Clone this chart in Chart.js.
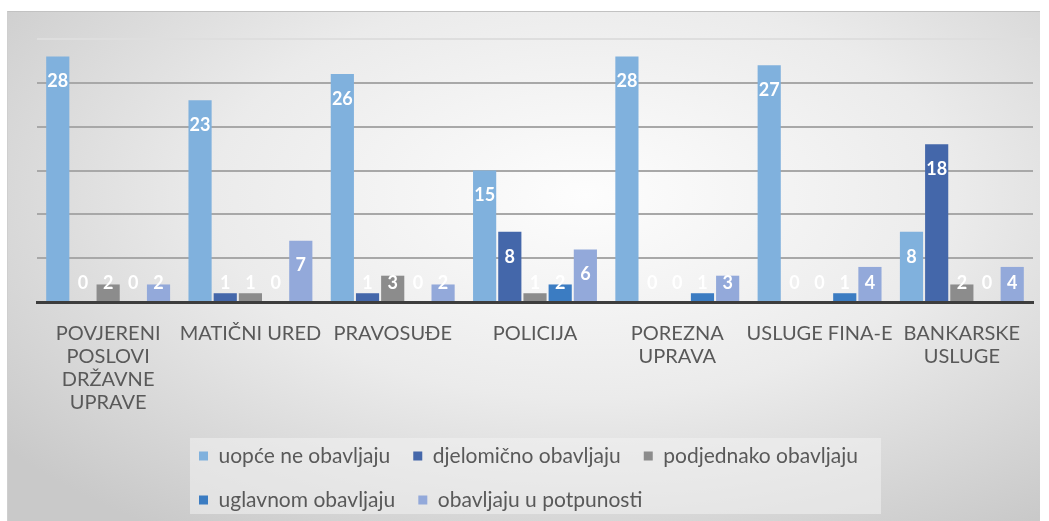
<!DOCTYPE html>
<html>
<head>
<meta charset="utf-8">
<script src="https://cdn.jsdelivr.net/npm/chart.js@4"></script>
<style>
  html, body { margin: 0; padding: 0; background: #fff; }
  #frame {
    position: absolute; left: 7px; top: 11px; width: 1033px; height: 510px;
    box-sizing: border-box;
    background: radial-gradient(ellipse 72% 80% at 56% 36%, #fdfdfd 0%, #ebebeb 50%, #c9c9c9 100%);
    border-top: 1px solid #c2c2c2;
    border-left: 1px solid #cfcfcf;
  }
  canvas { position: absolute; left: 0; top: 0; }
</style>
</head>
<body>
<div id="frame"></div>
<canvas id="chart" width="1049" height="521"></canvas>
<script>
const categories = [
  ["POVJERENI", "POSLOVI", "DRŽAVNE", "UPRAVE"],
  "MATIČNI URED",
  "PRAVOSUĐE",
  "POLICIJA",
  ["POREZNA", "UPRAVA"],
  "USLUGE FINA-E",
  ["BANKARSKE", "USLUGE"],
];
const seriesNames = [
  "uopće ne obavljaju",
  "djelomično obavljaju",
  "podjednako obavljaju",
  "uglavnom obavljaju",
  "obavljaju u potpunosti",
];
const uopceNe = [28, 23, 26, 15, 28, 27, 8];
const djelomicno = [0, 1, 1, 8, 0, 0, 18];
const podjednako = [2, 1, 3, 1, 0, 0, 2];
const uglavnom = [0, 0, 0, 2, 1, 1, 0];
const uPotpunosti = [2, 7, 2, 6, 3, 4, 4];
const seriesColors = ["#80b1dd", "#4467aa", "#8c8c8c", "#3b7cc2", "#93a9da"];

Chart.defaults.font.family = "Lato";

// white value labels near the top of each bar, lifted above short bars
const barLabels = {
  id: "barLabels",
  afterDatasetsDraw(chart) {
    const ctx = chart.ctx;
    const base = chart.scales.y.getPixelForValue(0);
    ctx.save();
    ctx.font = "bold 18px Lato";
    ctx.fillStyle = "#ffffff";
    ctx.textAlign = "center";
    ctx.textBaseline = "middle";
    chart.data.datasets.forEach((ds, i) => {
      chart.getDatasetMeta(i).data.forEach((bar, j) => {
        const y = Math.min(bar.y + 25, base - 19);
        ctx.fillText(ds.data[j], bar.x, y);
      });
    });
    ctx.restore();
  },
};

// legend sits in a light box under the axis labels, three items per row
const legendBox = {
  id: "legendBox",
  afterLayout(chart) {
    const lg = chart.legend;
    const pad = lg.options.labels.padding;
    const size = lg.options.labels.font.size;
    lg.left = 199 - pad;
    lg.right = 881;
    lg.top = 456 - size / 2 - pad;
  },
  beforeDraw(chart) {
    const ctx = chart.ctx;
    ctx.save();
    ctx.fillStyle = "rgba(243, 243, 243, 0.55)";
    ctx.fillRect(190, 438, 691, 76);
    ctx.restore();
  },
};

const datasets = [uopceNe, djelomicno, podjednako, uglavnom, uPotpunosti].map((d, i) => ({
  label: seriesNames[i],
  data: d,
  backgroundColor: seriesColors[i],
  categoryPercentage: 0.885,
  barPercentage: 0.92,
}));

new Chart(document.getElementById("chart"), {
  type: "bar",
  data: { labels: categories, datasets: datasets },
  options: {
    responsive: false,
    animation: false,
    devicePixelRatio: 1,
    layout: { padding: { left: 37, right: 16, top: 39, bottom: 0 } },
    plugins: {
      tooltip: { enabled: false },
      legend: {
        position: "bottom",
        align: "start",
        labels: {
          boxWidth: 9,
          boxHeight: 9,
          padding: 23,
          color: "#595959",
          font: { size: 21 },
        },
      },
    },
    scales: {
      x: {
        grid: { display: false, drawTicks: false },
        border: { display: true, color: "#3d3d3d", width: 3, z: 1 },
        ticks: {
          color: "#595959",
          font: { size: 20, lineHeight: 1.15 },
          padding: 20,
          maxRotation: 0,
          autoSkip: false,
        },
        afterFit(s) {
          s.height = 521 - 302 - s.chart.legend.height;
        },
      },
      y: {
        min: 0,
        max: 30,
        ticks: { display: false, stepSize: 5 },
        border: { display: false },
        grid: {
          drawTicks: false,
          lineWidth: 2,
          color: (c) => (c.tick.value === 30 ? "#dedede" : "#a8a8a8"),
        },
        afterFit(s) {
          s.width = 0;
        },
      },
    },
  },
  plugins: [barLabels, legendBox],
});
</script>
</body>
</html>
